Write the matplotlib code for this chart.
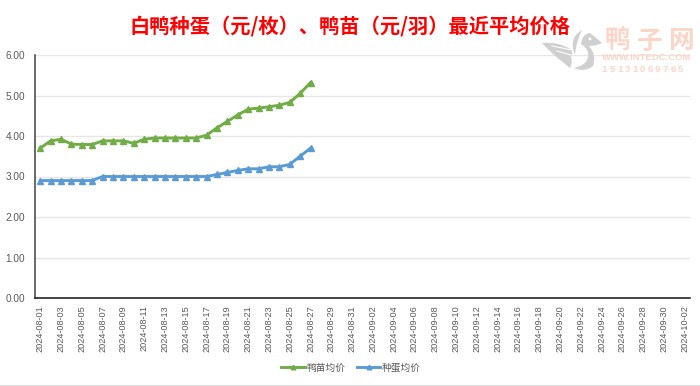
import matplotlib
matplotlib.use("Agg")
import matplotlib.pyplot as plt
import pandas as pd
from matplotlib.lines import Line2D
from matplotlib.patches import PathPatch, Circle
from matplotlib.path import Path
from matplotlib.transforms import Affine2D

plt.rcParams['font.family'] = ['Noto Sans CJK SC', 'DejaVu Sans']

title = "白鸭种蛋（元/枚）、鸭苗（元/羽）最近平均价格"
dates = pd.date_range("2024-08-01", "2024-10-02", freq="D").strftime("%Y-%m-%d").tolist()
duckling = [3.70, 3.88, 3.92, 3.80, 3.79, 3.79, 3.88, 3.88, 3.88, 3.82, 3.92, 3.95, 3.95, 3.95,
            3.95, 3.95, 4.02, 4.20, 4.36, 4.52, 4.66, 4.69, 4.72, 4.76, 4.83, 5.05, 5.32]
egg = [2.90, 2.90, 2.90, 2.90, 2.90, 2.90, 3.00, 3.00, 3.00, 3.00, 3.00, 3.00, 3.00, 3.00,
       3.00, 3.00, 3.00, 3.05, 3.10, 3.15, 3.19, 3.19, 3.24, 3.24, 3.30, 3.50, 3.70]
yticks = [0, 1, 2, 3, 4, 5, 6]
series_names = ["鸭苗均价", "种蛋均价"]

W, H = 700, 386
fig = plt.figure(figsize=(W / 100, H / 100), dpi=100, facecolor="white")
L, R, T, B = 35, 690, 55, 298
ax = fig.add_axes([L / W, 1 - B / H, (R - L) / W, (B - T) / H])
px = Affine2D().scale(1 / W, -1 / H).translate(0, 1) + fig.transFigure

x = list(range(len(dates)))
ax.plot(x[:len(duckling)], duckling, color="#70AD47", lw=2.1, marker="^", ms=4.2,
        mec="#70AD47", label=series_names[0], zorder=3, solid_joinstyle="round")
ax.plot(x[:len(egg)], egg, color="#5B9BD5", lw=2.1, marker="^", ms=4.2,
        mec="#5B9BD5", label=series_names[1], zorder=3, solid_joinstyle="round")

ax.set_xlim(-0.5, len(dates) - 0.5)
ax.set_ylim(0, 6)
ax.set_yticks(yticks)
ax.set_yticklabels([f"{v:.2f}" for v in yticks], family="Liberation Sans", fontsize=7.2, color="#595959")
ax.set_xticks(x[::2])
ax.set_xticklabels(dates[::2], rotation=90, family="Liberation Sans", fontsize=6.6, color="#595959")
ax.tick_params(axis="both", length=0)
ax.tick_params(axis="x", pad=5)
ax.tick_params(axis="y", pad=7)
ax.grid(axis="y", color="#E6E6E6", lw=1.0)
ax.set_axisbelow(True)
for s in ("top", "right"):
    ax.spines[s].set_visible(False)
ax.spines["left"].set_color("#404040")
ax.spines["left"].set_linewidth(1.1)
ax.spines["bottom"].set_color("#111111")
ax.spines["bottom"].set_linewidth(1.1)

fig.text(350 / W, 1 - 26 / H, title, color="#FF0000", fontsize=14.6, fontweight="bold",
         ha="center", va="center")

fig.legend(loc="center", bbox_to_anchor=(351 / W, 1 - 367.5 / H), ncol=2, frameon=False,
           fontsize=7, labelcolor="#595959", handlelength=2.45, handletextpad=0.15,
           columnspacing=1.15, borderpad=0, markerscale=0.8)

# faint rule along the bottom edge of the image
fig.add_artist(Line2D([0, W], [384.5, 384.5], color="#E0E0E0", lw=0.9, transform=px))
for tx in range(57, W, 58):
    fig.add_artist(Line2D([tx, tx], [384.5, 386], color="#E0E0E0", lw=0.7, transform=px))

# watermark: duck logo
gray = "#D0D0D0"
M, C = Path.MOVETO, Path.CURVE3
logo = [
    # wing
    [(M, (542, 43)), (C, (558, 41)), (C, (572, 50)), (C, (573, 54)), (C, (571, 57)),
     (C, (573, 62)), (C, (570, 68)), (C, (565, 64)), (C, (560, 60)), (C, (550, 52)), (C, (542, 43))],
    # crest feather
    [(M, (582, 30)), (C, (568, 38)), (C, (575, 55)), (C, (576, 42)), (C, (582, 30))],
    # head, beak and neck
    [(M, (602, 43)), (C, (594, 36)), (C, (590, 33)), (C, (582, 34)), (C, (581, 44)),
     (C, (590, 50)), (C, (588, 57)), (C, (587, 65)), (C, (574, 68)), (C, (584, 73)),
     (C, (593, 66)), (C, (597, 55)), (C, (589, 46)), (C, (596, 46)), (C, (602, 43))],
]
for part in logo:
    codes, verts = zip(*part)
    fig.add_artist(PathPatch(Path(verts, codes), facecolor=gray, edgecolor="none", transform=px, zorder=5))
# wing stripes
for xs, ys in (([552, 572], [46, 50]), ([557, 571], [51, 55])):
    fig.add_artist(Line2D(xs, ys, color="white", lw=0.8, transform=px, zorder=6))
eye = Circle((590, 39), 1.4, facecolor="white", edgecolor="none", transform=px, zorder=6)
fig.add_artist(eye)

# watermark: text
wm = "#FBD5C8"
for ch, cx in zip("鸭子网", (617.5, 650, 682)):
    fig.text(cx / W, 1 - 41 / H, ch, color=wm, fontsize=18.5, fontweight="bold", ha="center", va="center", zorder=5)
fig.text(646.5 / W, 1 - 58 / H, "WWW.INTEDC.COM", color=wm, fontsize=6.8, fontweight="bold",
         family="Liberation Sans", ha="center", va="center", zorder=5)
for i, ch in enumerate("15131069765"):
    fig.text((604.5 + i * 7.6) / W, 1 - 69 / H, ch, color=wm, fontsize=6.8, fontweight="bold",
             family="Liberation Sans", ha="center", va="center", zorder=5)

fig.savefig("out.png", dpi=100, facecolor="white")
